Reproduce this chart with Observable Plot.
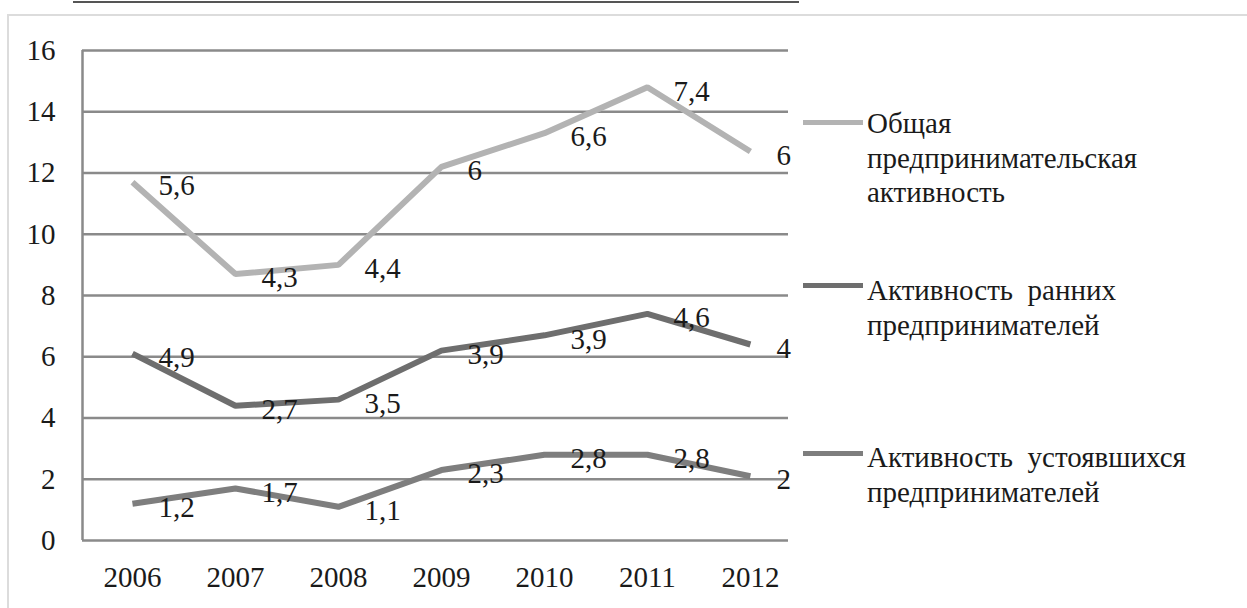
<!DOCTYPE html>
<html>
<head>
<meta charset="utf-8">
<script src="https://cdn.jsdelivr.net/npm/d3@7"></script>
<script src="https://cdn.jsdelivr.net/npm/@observablehq/plot@0.6"></script>
<style>
  html, body { margin: 0; padding: 0; background: #fff; }
  #wrap { position: relative; width: 1247px; height: 608px; overflow: hidden; font-family: "Liberation Serif", "Times New Roman", Times, Tinos, "DejaVu Serif", "Noto Serif", serif; color: #1a1a1a; }
  .topline { position: absolute; left: 73px; top: 1px; width: 726px; height: 2px; background: #555; }
  .frame { position: absolute; left: 7px; top: 14px; width: 1300px; height: 700px; border-left: 2px solid #dcdcdc; border-top: 2px solid #dcdcdc; }
  .sw { position: absolute; left: 803px; width: 60px; height: 5px; }
  .lt { position: absolute; left: 867px; font-size: 29px; line-height: 34.5px; white-space: pre; }
  svg { position: absolute; left: 0; top: 0; }
  svg text { font-family: "Liberation Serif", "Times New Roman", Times, Tinos, "DejaVu Serif", "Noto Serif", serif; }
</style>
</head>
<body>
<div id="wrap">
  <div class="topline"></div>
  <div class="frame"></div>
</div>
<script>
const years = [2006, 2007, 2008, 2009, 2010, 2011, 2012];
const seriesNames = [
  "Общая предпринимательская активность",
  "Активность ранних предпринимателей",
  "Активность устоявшихся предпринимателей"
];
// values as plotted (stacked line chart)
const established = [1.2, 1.7, 1.1, 2.3, 2.8, 2.8, 2.1];
const early       = [4.9, 2.7, 3.5, 3.9, 3.9, 4.6, 4.3];
const total       = [5.6, 4.3, 4.4, 6.0, 6.6, 7.4, 6.3];
// data labels as printed
const establishedLabels = ["1,2", "1,7", "1,1", "2,3", "2,8", "2,8", "2"];
const earlyLabels       = ["4,9", "2,7", "3,5", "3,9", "3,9", "4,6", "4"];
const totalLabels       = ["5,6", "4,3", "4,4", "6", "6,6", "7,4", "6"];
const yTicks = [0, 2, 4, 6, 8, 10, 12, 14, 16];
const colors = ["#b3b3b3", "#6e6e6e", "#7e7e7e"];
const serif = "'Liberation Serif', 'Times New Roman', Times, Tinos, 'DejaVu Serif', 'Noto Serif', serif";

// build stacked table
const rows = [];
years.forEach((yr, i) => {
  const b = established[i];
  const m = b + early[i];
  const t = m + total[i];
  rows.push({year: yr, series: seriesNames[2], top: b, label: establishedLabels[i]});
  rows.push({year: yr, series: seriesNames[1], top: m, label: earlyLabels[i]});
  rows.push({year: yr, series: seriesNames[0], top: t, label: totalLabels[i]});
});

const W = 1247, H = 608;
const plot = Plot.plot({
  width: W,
  height: H,
  marginLeft: 82,
  marginRight: W - 788,
  marginTop: 50,
  marginBottom: H - 540,
  style: {fontFamily: serif, fontSize: "29px", color: "#1a1a1a", background: "transparent"},
  x: {domain: [2005.515, 2012.37], ticks: years, tickFormat: d => String(d), tickSize: 0, tickPadding: 26, label: null},
  y: {domain: [0, 16], ticks: yTicks, tickSize: 0, tickPadding: 27, label: null},
  color: {domain: seriesNames, range: colors},
  marks: [
    Plot.ruleY(yTicks, {stroke: "#8a8a8a", strokeWidth: 2.5}),
    Plot.ruleX([2005.515], {y1: 0, y2: 16, stroke: "#8a8a8a", strokeWidth: 2.5}),
    Plot.line(rows, {x: "year", y: "top", z: "series", stroke: "series", strokeWidth: 6, strokeLinejoin: "miter", strokeLinecap: "butt"}),
    Plot.text(rows, {x: "year", y: "top", text: "label", textAnchor: "start", dx: 26, dy: 4, lineAnchor: "middle", fill: "#1a1a1a", fontSize: 29, fontFamily: serif}),
    Plot.axisX({ticks: years, tickFormat: d => String(d), tickSize: 0, tickPadding: 26, fontSize: 29, fontFamily: serif}),
    Plot.axisY({ticks: yTicks, tickSize: 0, tickPadding: 27, fontSize: 29, fontFamily: serif})
  ]
});
const wrap = document.getElementById("wrap");
wrap.appendChild(plot);

// legend to the right
const legendItems = [
  {lines: ["Общая", "предпринимательская", "активность"], sw: 120, top: 106, color: colors[0]},
  {lines: ["Активность  ранних", "предпринимателей"], sw: 283, top: 273, color: colors[1]},
  {lines: ["Активность  устоявшихся", "предпринимателей"], sw: 451, top: 440, color: colors[2]}
];
legendItems.forEach(it => {
  const s = document.createElement("div");
  s.className = "sw";
  s.style.top = it.sw + "px";
  s.style.background = it.color;
  wrap.appendChild(s);
  const t = document.createElement("div");
  t.className = "lt";
  t.style.top = it.top + "px";
  t.textContent = it.lines.join("\n");
  wrap.appendChild(t);
});
</script>
</body>
</html>
